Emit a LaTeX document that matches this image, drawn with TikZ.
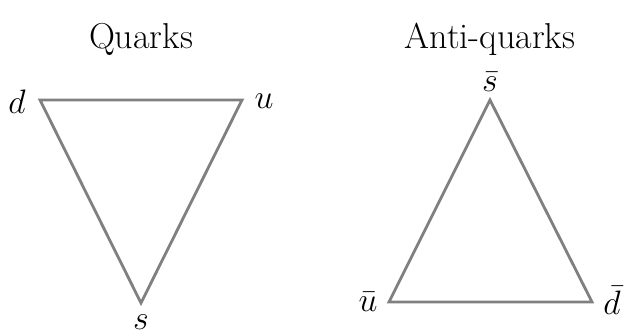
\documentclass[tikz,border=0pt]{standalone}
\begin{document}
\begin{tikzpicture}[x=0.425pt,y=-0.425pt,
  tri/.style={draw=black!50, line width=1.2pt, line join=miter},
  lbl/.style={font=\Large, inner sep=0pt},
  ttl/.style={font=\fontsize{15.3}{18}\selectfont, inner sep=0pt}]
\useasboundingbox (0,0) rectangle (624,335);
% left triangle
\coordinate (d) at (40,100);
\coordinate (u) at (242,100);
\coordinate (s) at (141,303);
\draw[tri] (d) -- (u) -- (s) -- cycle;
\node[lbl] (ld) at (17,102) {$d$};
\node[lbl] (lu) at (264,101) {$u$};
\node[lbl] (ls) at (141,322) {$s$};
\node[ttl] (tq) at (141,39) {Quarks};
% right triangle
\coordinate (sb) at (490,100);
\coordinate (ub) at (389,302);
\coordinate (db) at (592,302);
\draw[tri] (sb) -- (db) -- (ub) -- cycle;
\node[lbl] (lsb) at (490,82) {$\bar s$};
\node[lbl] (lub) at (368,302) {$\bar u$};
\node[lbl] (ldb) at (612,300) {$\bar d$};
\node[ttl] (ta) at (490,39) {Anti-quarks};
\end{tikzpicture}
\end{document}
